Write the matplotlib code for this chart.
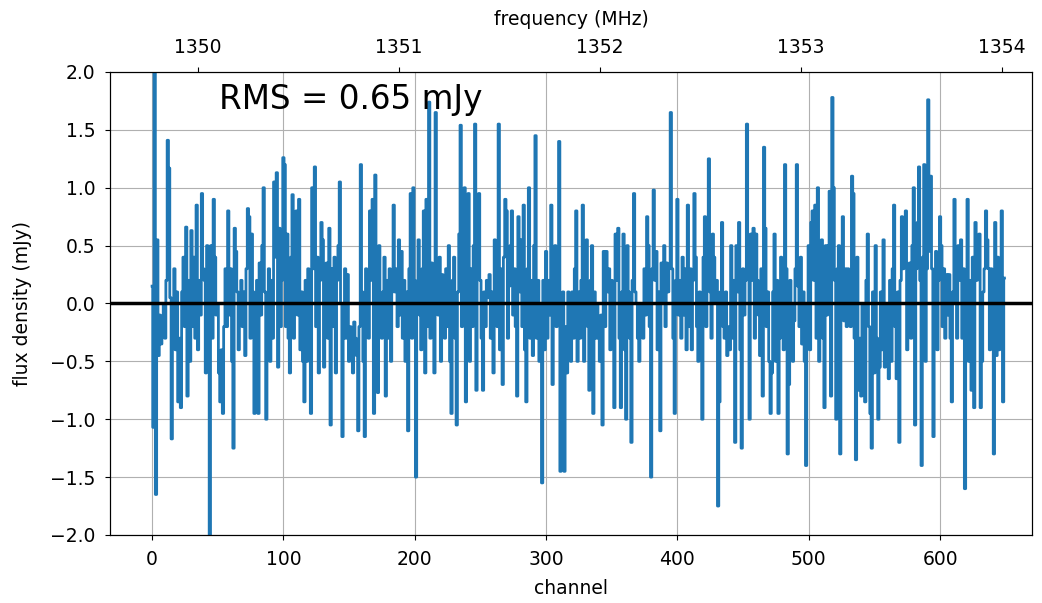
import numpy as np
import matplotlib.pyplot as plt

# flux density per channel (mJy)
flux = [
    0.15, -1.07, 2.3, -1.65, 0.55, -0.45, -0.1, -0.35, -0.25, 0.0,
    -0.3, 0.2, 1.41, 1.17, 0.05, -1.17, -0.1, 0.3, -0.4, 0.1,
    -0.85, -0.3, -0.9, 0.1, 0.4, -0.2, 0.66, -0.8, 0.2, -0.5,
    0.63, -0.2, 0.4, -0.3, 0.85, -0.4, 0.2, -0.1, 0.95, 0.3,
    0.2, -0.6, 0.5, 0.3, -2.3, 0.5, -0.3, 0.9, 0.4, -0.1,
    0.0, -0.6, -0.85, -0.4, -0.95, -0.2, 0.3, -0.2, 0.8, -0.1,
    0.3, -0.5, -1.25, 0.65, 0.45, 0.1, -0.4, 0.0, 0.2, -0.2,
    0.1, -0.45, 0.3, 0.82, 0.75, -0.3, 0.6, 0.1, -0.95, -0.3,
    0.2, -0.95, 0.35, -0.1, 0.5, 1.0, 0.1, -1.0, 0.0, 0.3,
    -0.5, 0.2, -0.3, 1.05, 0.4, 1.13, -0.55, 0.65, -0.2, 0.2,
    1.26, 1.2, -0.2, 0.6, -0.3, -0.6, 0.4, 0.94, -0.3, 0.2,
    0.8, -0.1, 0.9, -0.4, 0.1, -0.5, -0.85, 0.2, -0.5, 0.3,
    -0.2, -0.95, 1.0, 0.3, 1.18, -0.2, 0.4, -0.6, 0.2, 0.7,
    0.55, -0.55, 0.1, 0.35, -0.3, 0.65, -1.05, 0.3, -0.2, 0.4,
    -0.6, 0.2, 0.5, 1.05, 0.0, -1.15, -0.3, 0.3, -0.3, 0.25,
    -0.5, -0.2, -0.4, -0.6, -0.16, -0.3, -0.45, -1.1, -0.2, 1.2,
    0.1, -0.5, -1.15, 0.3, 0.0, -0.3, 0.8, 0.2, 0.9, -0.95,
    1.11, 0.4, -0.77, 0.5, 0.05, -0.3, 0.1, 0.4, -0.8, 0.2,
    -0.3, 0.3, -0.5, 0.1, 0.85, 0.1, 0.3, -0.2, 0.55, -0.1,
    0.45, -0.3, 0.2, -0.5, 0.1, -1.1, 0.3, 0.95, -0.3, 1.0,
    0.2, -1.5, 0.1, 0.55, -0.1, -0.4, 0.3, 0.8, -0.6, 0.9,
    -0.2, 1.74, -0.3, 0.35, 0.1, -0.6, 1.65, 0.3, -0.1, 0.4,
    -0.5, 0.25, 0.0, -0.3, 0.3, -0.2, 0.5, -0.5, -0.95, 0.2,
    0.4, -0.3, -1.05, 0.1, 0.6, 1.54, -0.2, 0.5, 1.0, -0.85,
    0.2, 0.95, -0.5, 0.3, -0.2, 0.5, 1.55, -0.75, 0.3, 0.95,
    0.2, -0.3, -0.75, 0.1, -0.2, 0.2, 0.05, 0.25, -0.3, 0.1,
    -0.6, 0.55, 0.2, -0.2, 1.55, -0.4, 0.3, -0.7, 0.4, 0.9,
    0.8, -0.3, 0.15, 0.5, 0.8, -0.1, 0.3, -0.2, -0.8, 0.75,
    0.1, 0.55, -0.2, 0.85, -0.4, -0.85, 0.3, 1.0, -0.3, 0.2,
    -0.45, 0.5, 1.45, -0.3, 0.2, -0.5, 0.0, -1.55, 0.2, -0.4,
    0.45, -0.3, 0.2, -0.1, 0.85, -0.7, 0.3, 0.5, -0.2, 0.4,
    1.4, -1.45, -0.3, 0.1, -1.45, -0.2, -0.6, 0.1, 0.0, -0.5,
    0.1, -0.3, 0.3, 0.8, -0.5, 0.1, -0.3, 0.2, 0.85, -0.5,
    0.1, 0.55, -0.2, -0.75, 0.2, 0.5, -0.95, 0.1, -0.3, 0.0,
    -0.3, -0.5, -0.1, -1.05, 0.45, -0.2, 0.45, 0.1, 0.3, -0.4,
    0.2, -0.3, -0.9, 0.6, 0.2, 0.65, -0.3, -0.9, 0.1, 0.6,
    -0.4, -1.0, 0.5, 0.1, -0.3, -1.2, 0.2, 0.95, 0.1, 0.0,
    -0.3, -0.5, 0.0, -0.2, -0.3, 0.3, -0.1, 0.75, 0.5, -0.2,
    -1.5, 0.3, 0.98, 0.2, 0.45, -0.4, 0.1, -1.1, 0.35, 0.0,
    0.5, -0.2, 0.35, 0.1, 0.3, 1.65, 0.3, -0.3, -0.95, 0.2,
    0.9, -0.1, 0.2, -0.3, 0.4, -0.1, 0.3, -0.4, 0.85, -0.2,
    0.3, -0.4, 0.2, 0.95, 0.4, -0.2, -0.5, 0.1, -0.3, -1.0,
    0.4, 0.75, -0.2, 0.5, 1.25, 0.1, -0.3, 0.6, 0.4, 0.0,
    0.2, -1.75, -0.85, 0.1, 0.7, -0.2, -0.3, 0.1, -0.45, -0.2,
    -0.4, 0.5, -0.3, 0.2, -1.2, 0.5, 0.1, 0.7, -0.4, -1.25,
    0.3, -0.1, 0.2, 1.55, 0.3, -1.0, 0.6, 0.2, 0.65, -0.3,
    0.6, 0.2, -0.1, -0.45, 0.3, -0.8, 1.35, 0.65, -0.2, 0.1,
    -0.5, -0.95, -0.6, 0.1, 0.6, -0.5, 0.2, -0.95, -0.3, 0.4,
    0.1, -0.4, 1.2, 0.3, -1.3, -0.7, 0.2, 0.0, -0.5, -0.15,
    0.3, 1.2, 0.15, -0.2, 0.4, -0.35, 0.1, -0.5, -1.4, 0.0,
    0.5, -0.4, 0.7, 0.8, 0.2, 0.85, -0.3, 1.0, -0.5, 0.2,
    0.55, -0.3, -0.9, 0.5, -0.1, 0.5, 0.97, -0.8, 1.78, 1.0,
    0.2, -1.0, 0.3, 0.5, -1.3, 0.1, 0.75, -0.15, 0.3, -0.2,
    0.3, 0.1, -0.2, 1.1, 0.95, -0.3, -1.35, 0.4, -0.75, -0.3,
    -0.8, 0.0, -0.6, -0.85, 0.2, 0.6, -0.2, -0.95, -1.25, 0.1,
    -0.6, 0.5, -0.3, -1.0, -0.55, 0.1, -0.4, 0.55, -0.55, 0.0,
    -0.3, -0.65, 0.2, -0.5, 0.3, 0.85, -0.2, -0.65, 0.1, -1.2,
    0.2, 0.75, 0.3, 0.4, 0.8, -0.4, 0.1, 0.35, -0.3, 0.5,
    1.0, -1.05, 0.3, 0.7, 1.18, 0.2, -1.4, 0.4, 1.2, -0.5,
    0.3, 1.76, 0.45, 1.1, 0.3, -1.15, 0.0, 0.45, -0.4, 0.2,
    0.75, 0.5, -0.2, 0.3, -0.3, 0.25, -0.1, 0.25, -0.3, -0.85,
    0.1, 0.9, 0.0, -0.3, 0.5, 0.2, 0.55, -0.3, 0.3, -1.6,
    0.1, 0.9, -0.5, 0.2, -0.75, 0.4, -0.9, 0.7, 0.2, 0.55,
    0.6, -0.9, -0.5, 0.1, 0.3, 0.8, 0.55, 0.3, -0.4, 0.3,
    -0.2, -1.3, 0.7, -0.45, 0.4, -0.4, 0.2, 0.8, -0.85, 0.22,
]
channels = np.arange(len(flux))

rms_text = 'RMS = 0.65 mJy'

# channel -> frequency (MHz)
ref_channel = 34.7
ref_freq = 1350.0
chan_width = 0.006533

fig = plt.figure(figsize=(10.42, 6.03), dpi=100)
ax = fig.add_axes([0.1056, 0.1128, 0.8848, 0.7678])

ax.plot(channels, flux, color='tab:blue', lw=2, drawstyle='steps-mid')
ax.axhline(0, color='black', lw=2.5)
ax.set_xlim(-32, 670)
ax.set_ylim(-2, 2)
ax.set_yticks(np.arange(-2, 2.01, 0.5))
ax.grid(True)
ax.set_axisbelow(True)
ax.tick_params(labelsize=13.5, pad=7)
ax.set_xlabel('channel', fontsize=13.5, labelpad=7.5)
ax.set_ylabel('flux density (mJy)', fontsize=13.5, labelpad=13)
ax.text(51, 1.68, rms_text, fontsize=23.5)

ax2 = ax.twiny()
lo, hi = ax.get_xlim()
ax2.set_xlim(ref_freq + (lo - ref_channel) * chan_width,
             ref_freq + (hi - ref_channel) * chan_width)
ax2.set_xticks([1350, 1351, 1352, 1353, 1354])
ax2.tick_params(labelsize=13.5, pad=7)
ax2.set_xlabel('frequency (MHz)', fontsize=13.5, labelpad=10)

fig.savefig('out.png', dpi=100)
